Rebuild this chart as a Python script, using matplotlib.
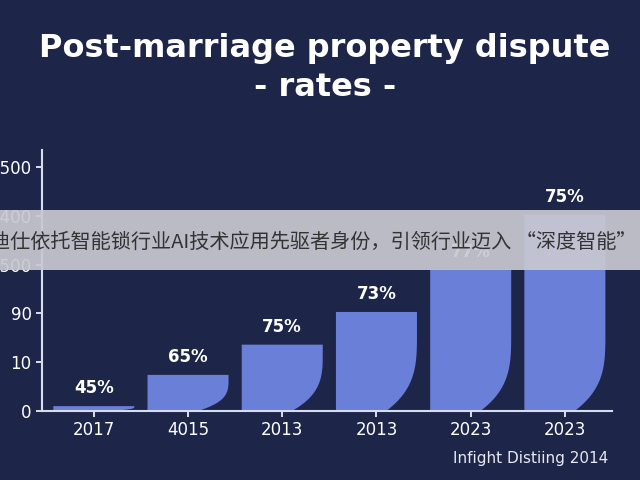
import matplotlib
matplotlib.use("Agg")
import matplotlib.pyplot as plt
import numpy as np
from matplotlib.patches import Polygon, Rectangle

categories = ["2017", "4015", "2013", "2013", "2023", "2023"]
values = [0.1, 0.74, 1.36, 2.03, 2.9, 4.02]
labels = ["45%", "65%", "75%", "73%", "77%", "75%"]
ytick_labels = ["1500", "10", "90", "1500", "400", "1500"]
ytick_labels = ["0", "10", "90", "1500", "1400", "1500"]

BG = "#1d2649"
BAR = "#6a7fd8"
fig = plt.figure(figsize=(6.4, 4.8), dpi=100, facecolor=BG)
ax = fig.add_axes([42/640, 1-411/480, (612-42)/640, (411-150)/480])
ax.set_facecolor(BG)
x = np.arange(len(values))
w = 0.86
for xi, v, lab in zip(x, values, labels):
    left, right = xi - w/2, xi + w/2
    r = min(v, 1.8) * 0.92
    t = np.linspace(0, 1, 40)
    cx = right - 0.38*w*(1-t)**3.5
    cy = r*t
    pts = [(left, 0), (left, v), (right, v)] + list(zip(cx[::-1], cy[::-1]))
    ax.add_patch(Polygon(pts, closed=True, facecolor=BAR, edgecolor="none"))
    ax.text(xi, v + 0.18, lab, ha="center", va="bottom", color="white",
            fontsize=12, fontweight="bold")
ax.set_xlim(-0.55, 5.5)
ax.set_ylim(0, 5.35)
ax.set_xticks(x)
ax.set_xticklabels(categories, color="white", fontsize=12)
ax.set_yticks(range(6))
ax.set_yticklabels(ytick_labels, color="white", fontsize=12)
ax.tick_params(colors="white", length=4, width=1.2)
for s in ["top", "right"]:
    ax.spines[s].set_visible(False)
for s in ["left", "bottom"]:
    ax.spines[s].set_color("#d8dcef")
    ax.spines[s].set_linewidth(1.5)

fig.text(325/640, 1-48/480, "Post-marriage property dispute", ha="center", va="center",
         color="white", fontsize=23, fontweight="bold")
fig.text(325/640, 1-88/480, "- rates -", ha="center", va="center",
         color="white", fontsize=23, fontweight="bold")
fig.text(608/640, 1-458/480, "Infight Distiing 2014", ha="right", va="center",
         color="#e6e8f2", fontsize=11)

fig.patches.append(Rectangle((0, 1-270/480), 1, 60/480, transform=fig.transFigure,
                             facecolor="#c8c9d1", alpha=0.92, edgecolor="none", zorder=5))
fig.text(-10/640, 1-242/480, "迪仕依托智能锁行业AI技术应用先驱者身份，引领行业迈入 “深度智能” 时代",
         ha="left", va="center", color="#333333", fontsize=14.5,
         family=["Noto Sans CJK SC", "DejaVu Sans"], zorder=6)
fig.savefig("out.png", dpi=100, facecolor=BG)
